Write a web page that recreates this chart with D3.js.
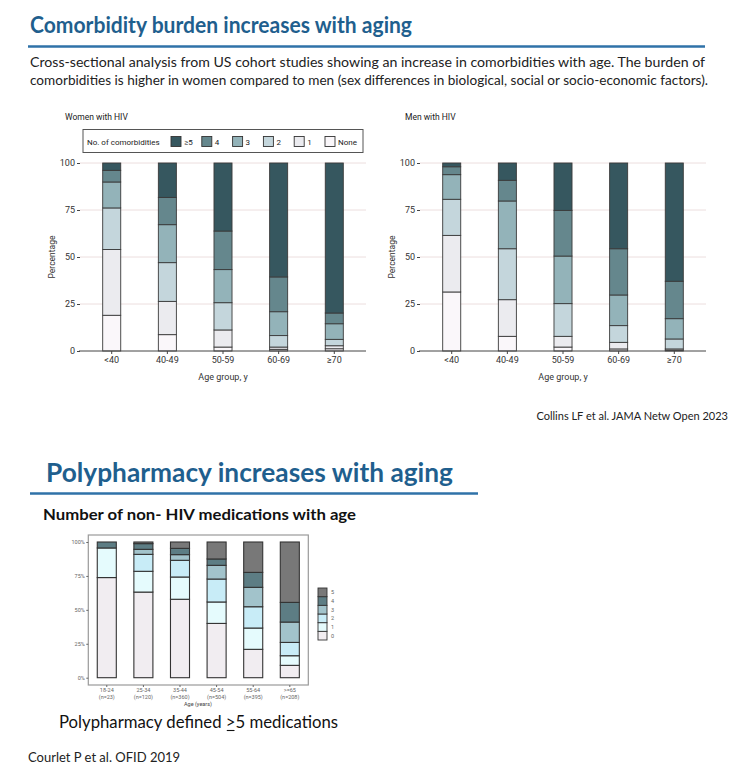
<!DOCTYPE html>
<html><head><meta charset="utf-8">
<script src="https://cdn.jsdelivr.net/npm/d3@7"></script>
<style>
body{margin:0;background:#fff}
text{font-family:Lato,"Open Sans",sans-serif}
.ch text{font-family:Roboto,"Liberation Sans",sans-serif}
</style></head>
<body><svg id="c" width="741" height="772"></svg>
<script>
// ---------- Data: comorbidity (Collins LF et al.) ----------
const ageGroups = ["<40","40-49","50-59","60-69","≥70"];
const comorbKeys = ["None","1","2","3","4","≥5"];
const comorbColors = ["#faf7fa","#ebebef","#c4d6dc","#93b3b9","#65878d","#36575f"];
const womenNone  = [19.0, 8.7, 2.1, 0.9, 1.2];
const womenOne   = [35.0, 17.7, 9.1, 1.2, 1.6];
const womenTwo   = [22.1, 20.6, 14.5, 6.1, 3.4];
const womenThree = [13.8, 20.2, 17.6, 12.7, 8.3];
const womenFour  = [6.2, 14.5, 20.5, 18.5, 5.7];
const womenFive  = [3.9, 18.3, 36.2, 60.6, 79.8];
const menNone  = [31.4, 7.8, 2.1, 1.1, 0.4];
const menOne   = [30.1, 19.5, 5.7, 3.5, 0.7];
const menTwo   = [19.2, 27.1, 17.4, 8.9, 5.3];
const menThree = [13.1, 25.4, 25.3, 16.3, 10.8];
const menFour  = [4.2, 11.0, 24.3, 24.6, 19.9];
const menFive  = [2.0, 9.2, 25.2, 45.6, 62.9];
const comorbTicks = [0,25,50,75,100];

// ---------- Data: polypharmacy (Courlet P et al.) ----------
const polyAges = ["18-24","25-34","35-44","45-54","55-64",">=65"];
const polyN = ["(n=23)","(n=120)","(n=360)","(n=504)","(n=395)","(n=208)"];
const polyKeys = ["0","1","2","3","4","5"];
const polyColors = ["#f1edf1","#e5fbfd","#c8ecf7","#a2c3cb","#5d7d84","#787878"];
const poly0 = [73.8, 63.1, 57.8, 40.0, 20.9, 9.1];
const poly1 = [21.8, 15.3, 16.4, 15.8, 15.7, 7.1];
const poly2 = [0, 12.5, 12.3, 16.9, 15.7, 9.8];
const poly3 = [0, 3.7, 4.2, 10.1, 14.3, 15.0];
const poly4 = [4.4, 4.2, 4.6, 4.7, 11.0, 14.5];
const poly5 = [0, 1.2, 4.7, 12.5, 22.4, 44.5];
const polyTicks = [0,25,50,75,100];
const polyTickLabels = ["0%","25%","50%","75%","100%"];

const svg = d3.select("#c");

// ---------- Header texts ----------
svg.append("text").attr("x",30).attr("y",33).attr("fill","#1f5f8e")
  .attr("font-size",22).attr("font-weight",700).attr("textLength",382).attr("lengthAdjust","spacingAndGlyphs")
  .text("Comorbidity burden increases with aging");
svg.append("line").attr("x1",28).attr("x2",705).attr("y1",46.5).attr("y2",46.5)
  .attr("stroke","#2f72a8").attr("stroke-width",2.5);
svg.append("text").attr("x",30).attr("y",67).attr("fill","#222").attr("font-size",13)
  .attr("textLength",675).attr("lengthAdjust","spacingAndGlyphs")
  .text("Cross-sectional analysis from US cohort studies showing an increase in comorbidities with age. The burden of");
svg.append("text").attr("x",30).attr("y",85).attr("fill","#222").attr("font-size",13)
  .attr("textLength",678).attr("lengthAdjust","spacingAndGlyphs")
  .text("comorbidities is higher in women compared to men (sex differences in biological, social or socio-economic factors).");

function comorbChart(g, title, series, withLegend){
  const x = d3.scaleBand().domain(ageGroups).range([80,366]).paddingInner(0.676).paddingOuter(0.408);
  const y = d3.scaleLinear().domain([0,100]).range([351,163]);
  const rows = ageGroups.map((a,i)=>{const r={age:a}; comorbKeys.forEach((k,j)=>r[k]=series[j][i]); return r;});
  const stacked = d3.stack().keys(comorbKeys)(rows);
  g.append("text").attr("x",65).attr("y",120).attr("font-size",8.5).attr("fill","#222").text(title);
  // gridlines
  g.selectAll(".grid").data(comorbTicks.slice(1)).join("line")
    .attr("x1",80).attr("x2",366).attr("y1",d=>y(d)).attr("y2",d=>y(d))
    .attr("stroke","#ecdede").attr("stroke-width",1);
  // y axis
  const ya = g.append("g").attr("transform","translate(80,0)")
    .call(d3.axisLeft(y).tickValues(comorbTicks).tickSize(3).tickPadding(2));
  ya.select(".domain").remove();
  ya.selectAll("line").attr("stroke","#444");
  ya.selectAll("text").attr("font-size",9).attr("fill","#333");
  g.append("text").attr("transform","translate(55,257) rotate(-90)").attr("text-anchor","middle")
    .attr("font-size",8.5).attr("fill","#333").text("Percentage");
  // bars
  g.selectAll(".layer").data(stacked).join("g").attr("fill",(d,i)=>comorbColors[i])
    .selectAll("rect").data(d=>d).join("rect")
    .attr("x",d=>x(d.data.age)).attr("width",x.bandwidth())
    .attr("y",d=>y(d[1])).attr("height",d=>y(d[0])-y(d[1]))
    .attr("stroke","#3a3a3a").attr("stroke-width",0.9);
  // x axis
  const xa = g.append("g").attr("transform","translate(0,351)")
    .call(d3.axisBottom(x).tickSize(3).tickSizeOuter(0).tickPadding(3));
  xa.select(".domain").remove();
  xa.selectAll("line").attr("stroke","#444");
  xa.selectAll("text").attr("font-size",9).attr("fill","#333");
  g.append("line").attr("x1",79).attr("x2",366).attr("y1",351).attr("y2",351).attr("stroke","#444").attr("stroke-width",1);
  g.append("text").attr("x",223).attr("y",380).attr("text-anchor","middle")
    .attr("font-size",9).attr("fill","#333").text("Age group, y");
  if(withLegend){
    const lg = g.append("g");
    lg.append("rect").attr("x",83).attr("y",129.5).attr("width",280).attr("height",23)
      .attr("fill","#fff").attr("stroke","#555").attr("stroke-width",1);
    lg.append("text").attr("x",87).attr("y",144.5).attr("font-size",8).attr("fill","#222").text("No. of comorbidities");
    const order = comorbKeys.slice().reverse();
    const lx = d3.scalePoint().domain(order).range([171,325]);
    order.forEach(k=>{
      const ci = comorbKeys.indexOf(k);
      lg.append("rect").attr("x",lx(k)).attr("y",136.5).attr("width",10).attr("height",10)
        .attr("fill",comorbColors[ci]).attr("stroke","#333").attr("stroke-width",0.9);
      lg.append("text").attr("x",lx(k)+13).attr("y",144.5).attr("font-size",8).attr("fill","#222").text(k);
    });
  }
}
const gW = svg.append("g").attr("class","ch");
comorbChart(gW,"Women with HIV",[womenNone,womenOne,womenTwo,womenThree,womenFour,womenFive],true);
const gM = svg.append("g").attr("class","ch").attr("transform","translate(340,0)");
comorbChart(gM,"Men with HIV",[menNone,menOne,menTwo,menThree,menFour,menFive],false);

svg.append("text").attr("x",728).attr("y",420).attr("text-anchor","end").attr("font-size",11)
  .attr("fill","#222").text("Collins LF et al. JAMA Netw Open 2023");

// ---------- Polypharmacy section ----------
svg.append("text").attr("x",46).attr("y",482).attr("fill","#1f5f8e")
  .attr("font-size",26).attr("font-weight",700).attr("textLength",407).attr("lengthAdjust","spacingAndGlyphs")
  .text("Polypharmacy increases with aging");
svg.append("line").attr("x1",30).attr("x2",478).attr("y1",493.5).attr("y2",493.5)
  .attr("stroke","#2f72a8").attr("stroke-width",2.5);
svg.append("text").attr("x",43).attr("y",520).attr("fill","#111")
  .attr("font-size",15).attr("font-weight",700).attr("textLength",313).attr("lengthAdjust","spacingAndGlyphs")
  .text("Number of non- HIV medications with age");

const pg = svg.append("g").attr("class","ch");
const px = d3.scaleBand().domain(polyAges).range([88.3,308.3]).paddingInner(0.48).paddingOuter(0.245);
const py = d3.scaleLinear().domain([0,100]).range([677.7,542]);
const polyRows = polyAges.map((a,i)=>{const r={age:a}; [poly0,poly1,poly2,poly3,poly4,poly5].forEach((s,j)=>r[polyKeys[j]]=s[i]); return r;});
const polyStack = d3.stack().keys(polyKeys)(polyRows);
pg.append("rect").attr("x",88.3).attr("y",535).attr("width",220).attr("height",150)
  .attr("fill","#fff").attr("stroke","#9a9a9a").attr("stroke-width",1.2);
pg.selectAll(".pl").data(polyStack).join("g").attr("fill",(d,i)=>polyColors[i])
  .selectAll("rect").data(d=>d.filter(v=>v[1]-v[0]>0)).join("rect")
  .attr("x",d=>px(d.data.age)).attr("width",px.bandwidth())
  .attr("y",d=>py(d[1])).attr("height",d=>py(d[0])-py(d[1]))
  .attr("stroke","#333").attr("stroke-width",1.1);
const pya = pg.append("g").attr("transform","translate(88.3,0)")
  .call(d3.axisLeft(py).tickValues(polyTicks).tickFormat((d,i)=>polyTickLabels[i]).tickSize(2).tickPadding(1.5));
pya.select(".domain").remove();
pya.selectAll("line").attr("stroke","#666");
pya.selectAll("text").attr("font-size",5.5).attr("fill","#666");
const pxa = pg.append("g").attr("transform","translate(0,685)")
  .call(d3.axisBottom(px).tickSize(2).tickSizeOuter(0).tickPadding(1.5));
pxa.select(".domain").remove();
pxa.selectAll("line").attr("stroke","#666");
pxa.selectAll("text").attr("font-size",5.5).attr("fill","#666");
pg.selectAll(".nlab").data(polyAges).join("text")
  .attr("x",d=>px(d)+px.bandwidth()/2).attr("y",699).attr("text-anchor","middle")
  .attr("font-size",5.5).attr("fill","#666").text((d,i)=>polyN[i]);
pg.append("text").attr("x",198).attr("y",705.5).attr("text-anchor","middle")
  .attr("font-size",5.5).attr("fill","#444").text("Age (years)");
// legend
const lyScale = d3.scaleBand().domain(polyKeys.slice().reverse()).range([588,640]);
polyKeys.forEach((k,i)=>{
  pg.append("rect").attr("x",318).attr("y",lyScale(k)).attr("width",9).attr("height",lyScale.bandwidth())
    .attr("fill",polyColors[i]).attr("stroke","#333").attr("stroke-width",0.9);
  pg.append("text").attr("x",331).attr("y",lyScale(k)+lyScale.bandwidth()/2+2)
    .attr("font-size",5.5).attr("fill","#666").text(k);
});

const ptStr = "Polypharmacy defined >5 medications";
const pt = svg.append("text").attr("x",59).attr("y",728).attr("fill","#111").attr("font-size",17)
  .attr("textLength",279).attr("lengthAdjust","spacingAndGlyphs").text(ptStr);
// underline beneath ">" (renders as ≥)
try {
  const ci = ptStr.indexOf(">");
  const ext = pt.node().getExtentOfChar(ci);
  svg.append("line").attr("x1",ext.x+1).attr("x2",ext.x+ext.width-1)
    .attr("y1",730.5).attr("y2",730.5).attr("stroke","#111").attr("stroke-width",1.1);
} catch(e) {}

svg.append("text").attr("x",28).attr("y",762).attr("fill","#222").attr("font-size",13)
  .text("Courlet P et al. OFID 2019");
</script>
</body></html>
